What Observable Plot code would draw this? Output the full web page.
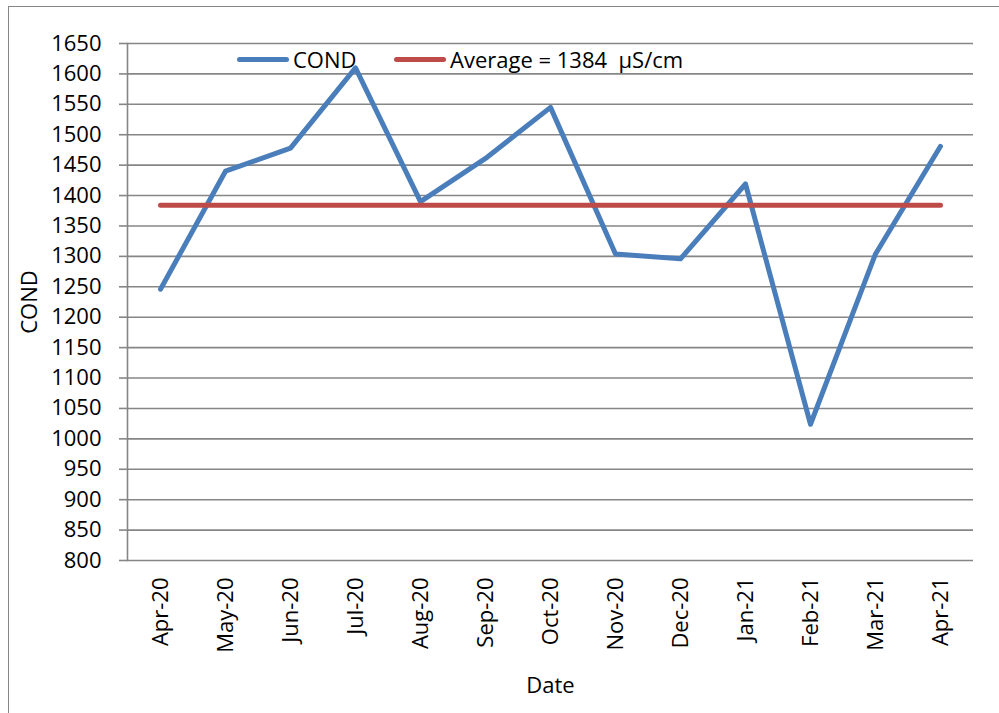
<!DOCTYPE html>
<html>
<head>
<meta charset="utf-8">
<script src="https://cdn.jsdelivr.net/npm/d3@7"></script>
<script src="https://cdn.jsdelivr.net/npm/@observablehq/plot@0.6"></script>
<style>
  html, body { margin: 0; padding: 0; background: white; }
  #wrap { position: relative; width: 999px; height: 713px; overflow: hidden; font-family: "Open Sans", sans-serif; background: white; }
  #chart { position: absolute; left: 0; top: 0; z-index: 2; }
  #frame { position: absolute; left: 8px; top: 6px; width: 1100px; height: 900px; border: 1.5px solid #868686; pointer-events: none; z-index: 3; }
  .item { position: absolute; top: 44px; display: flex; align-items: center; font-size: 22px; color: black; white-space: pre; line-height: 30px; z-index: 1; }
  .sw { display: inline-block; width: 52px; height: 5px; border-radius: 3px; margin-right: 4px; }
</style>
</head>
<body>
<div id="wrap">
  <div id="chart"></div>
  <div id="frame"></div>
</div>
<script>
const months = ["Apr-20","May-20","Jun-20","Jul-20","Aug-20","Sep-20","Oct-20","Nov-20","Dec-20","Jan-21","Feb-21","Mar-21","Apr-21"];
const cond = [1246, 1440, 1478, 1610, 1390, 1461, 1545, 1304, 1296, 1419, 1024, 1304, 1481];
const average = 1384;
const yTicks = [800,850,900,950,1000,1050,1100,1150,1200,1250,1300,1350,1400,1450,1500,1550,1600,1650];
const seriesNames = ["COND", "Average = 1384  \u00b5S/cm"];
const colors = ["#4A7EBB", "#BE4B48"];

const data = months.map((m, i) => ({month: m, cond: cond[i]}));
const avgData = [{month: months[0], v: average}, {month: months[months.length - 1], v: average}];

const chart = Plot.plot({
  width: 999,
  height: 713,
  marginLeft: 127,
  marginRight: 26,
  marginTop: 43,
  marginBottom: 153,
  style: {fontFamily: "'Open Sans', sans-serif", fontSize: "22px", color: "black", background: "transparent", overflow: "visible"},
  x: {type: "point", domain: months, padding: 0.5, label: null},
  y: {domain: [800, 1650], label: null},
  marks: [
    Plot.ruleY(yTicks, {stroke: "#868686", strokeWidth: 1.6}),
    Plot.frame({anchor: "left", stroke: "#868686", strokeWidth: 1.6}),
    Plot.axisY(yTicks, {tickSize: 8, tickPadding: 18, stroke: "#868686", strokeWidth: 1.6, fill: "black", label: null, tickFormat: d => String(d)}),
    Plot.axisX({tickSize: 0, tickPadding: 17, tickRotate: -90, fill: "black", label: null}),
    Plot.text(["COND"], {frameAnchor: "left", dx: -98, rotate: -90, textAnchor: "middle", lineAnchor: "middle", fill: "black", fontSize: 22}),
    Plot.text(["Date"], {frameAnchor: "bottom", dy: 125, textAnchor: "middle", lineAnchor: "middle", fill: "black", fontSize: 22}),
    Plot.line(data, {x: "month", y: "cond", stroke: colors[0], strokeWidth: 5, strokeLinejoin: "round", strokeLinecap: "round"}),
    Plot.line(avgData, {x: "month", y: "v", stroke: colors[1], strokeWidth: 5, strokeLinecap: "round"})
  ]
});
document.getElementById("chart").appendChild(chart);

const wrap = document.getElementById("wrap");
const legendLeft = [237, 394];
seriesNames.forEach((name, i) => {
  const item = document.createElement("div");
  item.className = "item";
  item.style.left = legendLeft[i] + "px";
  const sw = document.createElement("span");
  sw.className = "sw";
  sw.style.background = colors[i];
  const t = document.createElement("span");
  t.textContent = name;
  item.appendChild(sw);
  item.appendChild(t);
  wrap.appendChild(item);
});
</script>
</body>
</html>
